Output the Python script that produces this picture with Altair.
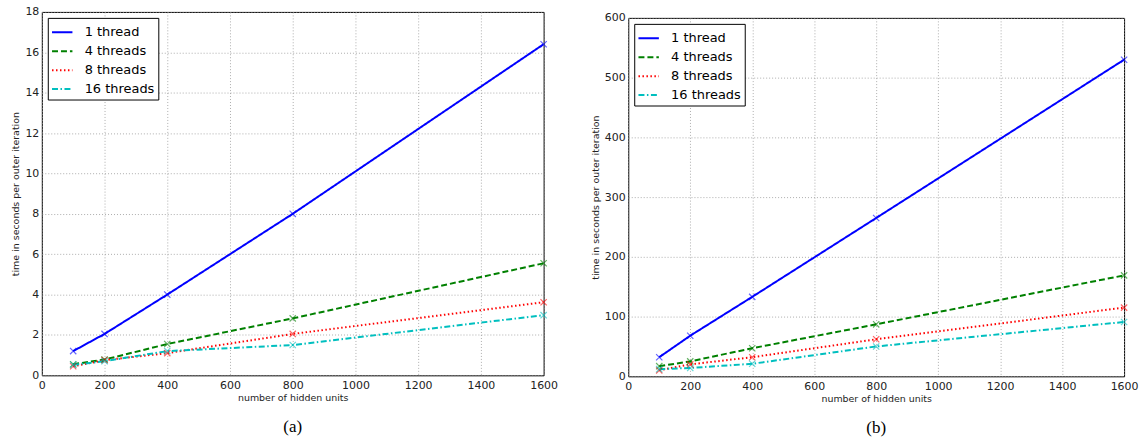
import altair as alt
import pandas as pd

hidden_units = [100, 200, 400, 800, 1600]
series_names = ["1 thread", "4 threads", "8 threads", "16 threads"]

# panel (a): time per outer iteration
a_1 = [1.2, 2.05, 4.0, 8.0, 16.4]
a_4 = [0.55, 0.78, 1.55, 2.82, 5.55]
a_8 = [0.45, 0.75, 1.1, 2.05, 3.62]
a_16 = [0.52, 0.7, 1.2, 1.5, 2.98]

# panel (b)
b_1 = [32, 68, 133, 265, 530]
b_4 = [17, 25, 47, 87, 169]
b_8 = [10, 20, 32, 62, 115]
b_16 = [12, 14, 21, 50, 91]

colors = ["#0000ff", "#008000", "#ff0000", "#00bfbf"]
dashes = [[1, 0], [6, 3], [1.5, 2.5], [6, 2.5, 1.5, 2.5]]

def long_df(vals):
    rows = []
    for name, ys in zip(series_names, vals):
        for x, y in zip(hidden_units, ys):
            rows.append({"units": x, "time": y, "series": name})
    return pd.DataFrame(rows)

df_a = long_df([a_1, a_4, a_8, a_16])
df_b = long_df([b_1, b_4, b_8, b_16])

FONT = "DejaVu Sans"

def panel(df, ymax, ystep, w, h, caption):
    xaxis = alt.Axis(values=list(range(0, 1601, 200)), title="number of hidden units", format="d",
                     grid=True, ticks=False, labelPadding=4, titlePadding=2,
                     labelFontSize=11, titleFontSize=9.5, titleFontWeight="normal",
                     labelColor="#222", titleColor="#222", labelFont=FONT, titleFont=FONT,
                     domain=False, labelFlush=False)
    yaxis = alt.Axis(values=list(range(0, ymax + 1, ystep)), title="time in seconds per outer iteration",
                     grid=True, ticks=False, labelPadding=3, titlePadding=4,
                     labelFontSize=11, titleFontSize=9.5, titleFontWeight="normal",
                     labelColor="#222", titleColor="#222", labelFont=FONT, titleFont=FONT,
                     domain=False)
    x = alt.X("units:Q", scale=alt.Scale(domain=[0, 1600], nice=False), axis=xaxis)
    y = alt.Y("time:Q", scale=alt.Scale(domain=[0, ymax], nice=False), axis=yaxis)
    color = alt.Color("series:N", scale=alt.Scale(domain=series_names, range=colors),
                      legend=alt.Legend(title=None, orient="top-left", offset=6,
                                        strokeColor="black", fillColor="white", padding=3,
                                        labelFontSize=13, labelFont=FONT, labelColor="#000",
                                        symbolType="stroke", symbolSize=420, symbolStrokeWidth=2,
                                        labelOffset=11, rowPadding=-0.5, cornerRadius=0))
    dash = alt.StrokeDash("series:N", scale=alt.Scale(domain=series_names, range=dashes))
    base = alt.Chart(df)
    lines = base.mark_line(strokeWidth=2, clip=True).encode(x=x, y=y, color=color, strokeDash=dash)
    pts = base.mark_point(shape="M-1,-1L1,1M-1,1L1,-1", size=40, filled=False,
                          strokeWidth=1.2, opacity=0.6).encode(
        x=x, y=y, color=alt.Color("series:N", scale=alt.Scale(domain=series_names, range=colors), legend=None))
    cap = alt.Chart(pd.DataFrame({"caption": [caption]})).mark_text(
        font="Liberation Serif", fontSize=17, color="black", baseline="middle").encode(
        text="caption:N", x=alt.value(w / 2), y=alt.value(h + 52))
    return alt.layer(lines, pts, cap).properties(width=w, height=h)

left = panel(df_a, 18, 2, 504, 365, "(a)")
right = panel(df_b, 600, 100, 498, 360, "(b)")

spacer = alt.Chart(pd.DataFrame({"s": [0]})).mark_point(opacity=0).properties(
    width=498, height=5, view=alt.ViewBackground(stroke="transparent"))

right_col = alt.vconcat(spacer, right, spacing=-12).resolve_scale(
    color="independent", strokeDash="independent").resolve_legend(
    color="independent", strokeDash="independent")

chart = alt.hconcat(left, right_col, spacing=31).resolve_scale(
    color="independent", strokeDash="independent").resolve_legend(
    color="independent", strokeDash="independent").properties(
    padding={"left": 10, "top": 4, "right": 5, "bottom": 5}).configure_view(
    stroke="black", strokeWidth=1).configure_axis(
    gridColor="#999", gridDash=[1, 2], gridWidth=0.8)

chart.save("out.html", embed_options={"renderer": "svg", "actions": False})
